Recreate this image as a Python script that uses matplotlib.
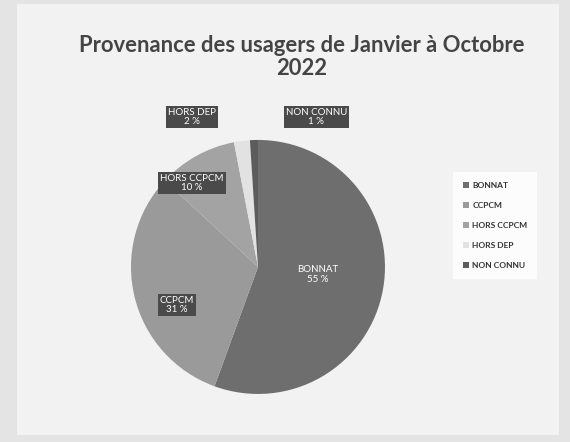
import numpy as np
import matplotlib
matplotlib.use("Agg")
import matplotlib.pyplot as plt

categories = ['BONNAT', 'CCPCM', 'HORS CCPCM', 'HORS DEP', 'NON CONNU']
values = [55, 31, 10, 2, 1]
pct_labels = ['55 %', '31 %', '10 %', '2 %', '1 %']

colors = ['#6e6e6e', '#9a9a9a', '#a3a3a3', '#e2e2e2', '#5c5c5c']
# label anchor points, in pie radius units
label_pos = [(0.47, -0.06), (-0.64, -0.30), (-0.52, 0.66), (-0.52, 1.18), (0.46, 1.18)]

plt.rcParams['font.family'] = ['Lato', 'DejaVu Sans']

fig = plt.figure(figsize=(5.7, 4.42), dpi=100)
fig.patch.set_facecolor('#e4e4e4')

# lighter chart area inside the scanned border
fig.add_artist(plt.Rectangle((0.03, 0.015), 0.95, 0.975, transform=fig.transFigure,
                             facecolor='#f2f2f2', edgecolor='none', zorder=0))

ax = fig.add_axes([0.2298, 0.1087, 0.4456, 0.5747])
wedges, _ = ax.pie(values, colors=colors, startangle=90, counterclock=False,
                   radius=1.0, wedgeprops=dict(linewidth=0))
ax.set_xlim(-1, 1)
ax.set_ylim(-1, 1)
ax.set_aspect('equal')

for i, (name, pct) in enumerate(zip(categories, pct_labels)):
    x, y = label_pos[i]
    if i == 0:
        box = None
    else:
        box = dict(boxstyle='square,pad=0.2', facecolor='#4a4a4a', edgecolor='none')
    ax.text(x, y, name + '\n' + pct, ha='center', va='center', fontsize=7,
            color='white', linespacing=1.1, bbox=box, clip_on=False)

fig.text(0.529, 0.871, 'Provenance des usagers de Janvier à Octobre\n2022',
         ha='center', va='center', fontsize=15.8, fontweight='bold',
         color='#444444', linespacing=1.1)

leg = fig.legend(wedges, categories, loc='center', bbox_to_anchor=(0.869, 0.49),
                 fontsize=6, frameon=True, fancybox=False, handlelength=0.7,
                 handleheight=0.7, handletextpad=0.4, labelspacing=1.55,
                 borderpad=1.2)
leg.get_frame().set_facecolor('white')
leg.get_frame().set_edgecolor('none')
for t in leg.get_texts():
    t.set_color('#333333')
    t.set_fontweight('bold')

fig.savefig('out.png', dpi=100, facecolor=fig.get_facecolor())
